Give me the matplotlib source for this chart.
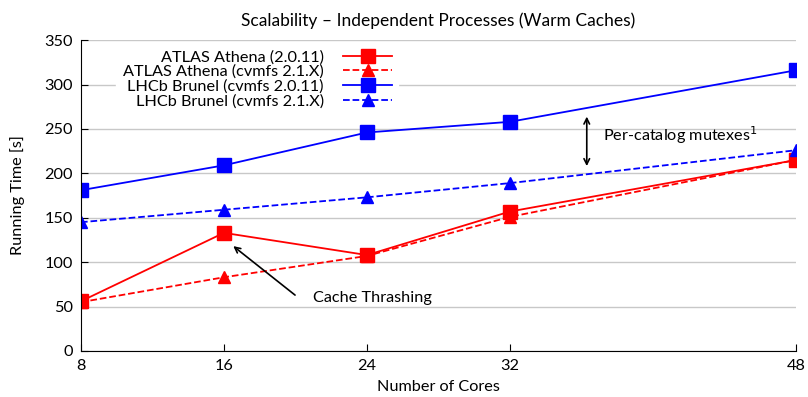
import matplotlib
matplotlib.use("Agg")
import matplotlib.pyplot as plt

cores = [8, 16, 24, 32, 48]
atlas_old = [56, 133, 108, 157, 215]
atlas_new = [55, 83, 107, 151, 215]
lhcb_old = [181, 209, 246, 258, 316]
lhcb_new = [145, 159, 173, 189, 226]

labels = ["ATLAS Athena (2.0.11)", "ATLAS Athena (cvmfs 2.1.X)",
          "LHCb Brunel (cvmfs 2.0.11)", "LHCb Brunel (cvmfs 2.1.X)"]

plt.rcParams['font.family'] = ['Lato', 'DejaVu Sans']
fs = 11.7

fig = plt.figure(figsize=(8.08, 3.97), dpi=100)
ax = fig.add_axes([0.1002, 0.1159, 0.8848, 0.7831])

ax.plot(cores, atlas_old, '-', color='red', marker='s', ms=9.5, lw=1.3, label=labels[0])
ax.plot(cores, atlas_new, '--', color='red', marker='^', ms=8, lw=1.3, label=labels[1])
ax.plot(cores, lhcb_old, '-', color='blue', marker='s', ms=9.5, lw=1.3, label=labels[2])
ax.plot(cores, lhcb_new, '--', color='blue', marker='^', ms=8, lw=1.3, label=labels[3])

ax.set_xlim(8, 48)
ax.set_ylim(0, 350)
ax.set_xticks(cores)
ax.set_yticks(range(0, 351, 50))
ax.yaxis.grid(True, color='#c8c8c8', lw=1)
ax.set_axisbelow(True)
for s in ['top', 'right']:
    ax.spines[s].set_visible(False)
ax.tick_params(direction='in', length=5, labelsize=fs, pad=6)
for lab in ax.get_xticklabels() + ax.get_yticklabels():
    lab.set_clip_on(False)

ax.set_xlabel("Number of Cores", fontsize=fs, labelpad=5)
ax.set_ylabel("Running Time [s]", fontsize=fs, labelpad=14)
ax.set_title("Scalability – Independent Processes (Warm Caches)", fontsize=12.5, pad=10)

leg = ax.legend(loc='upper left', bbox_to_anchor=(0.045, 1.0), markerfirst=False,
                frameon=True, framealpha=1, edgecolor='white', fontsize=fs,
                handlelength=3.0, handletextpad=1.2, labelspacing=0.02,
                borderaxespad=0.2)
for t in leg.get_texts():
    t.set_ha('right')
leg._legend_box.align = "right"

ax.annotate("", xy=(16.4, 120), xytext=(20.1, 61),
            arrowprops=dict(arrowstyle='->', color='black', lw=1.2))
ax.text(21.0, 60, "Cache Thrashing", fontsize=fs, va='center')

ax.annotate("", xy=(36.3, 267), xytext=(36.3, 205),
            arrowprops=dict(arrowstyle='<->', color='black', lw=1.2))
ax.text(37.2, 243, "Per-catalog mutexes$^1$", fontsize=fs, va='center')

fig.savefig("out.png", dpi=100)
